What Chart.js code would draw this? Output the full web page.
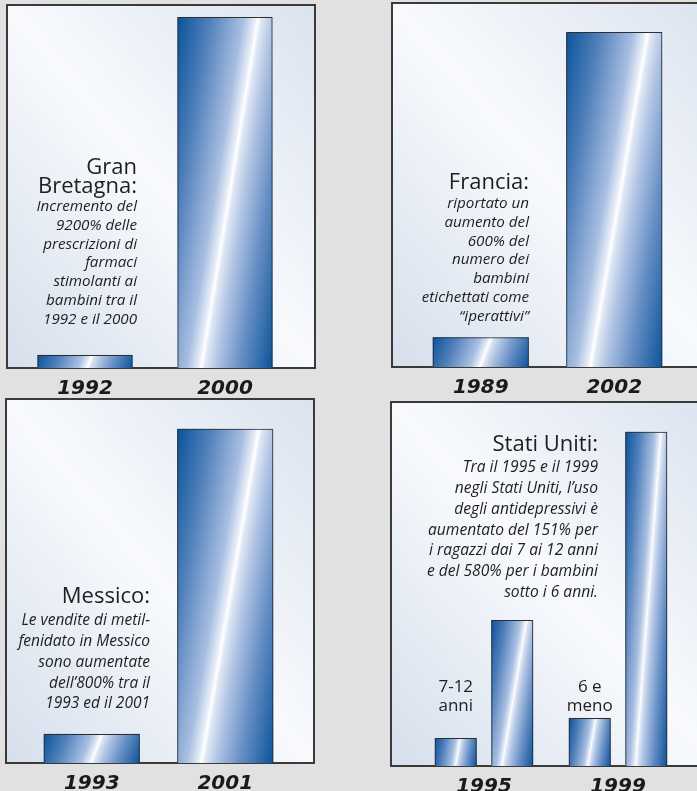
<!DOCTYPE html>
<html>
<head>
<meta charset="utf-8">
<script src="https://cdn.jsdelivr.net/npm/chart.js"></script>
<style>
    body {
        margin: 0;
        width: 697px;
        height: 791px;
        overflow: hidden;
        position: relative;
        background: #e1e1e1;
    }
    .frame {
        position: absolute;
        box-sizing: border-box;
        border: 2px solid #3a3a3a;
        background: linear-gradient(to top right, #d6dfec 0%, #f8fafd 50%, #dbe3ef 100%);
    }
    canvas {
        position: absolute;
    }
</style>
</head>
<body>
<div class="frame" style="left:6px;top:4px;width:310px;height:365px"></div>
<div class="frame" style="left:391px;top:2px;width:330px;height:366px"></div>
<div class="frame" style="left:5px;top:398px;width:310px;height:366px"></div>
<div class="frame" style="left:390px;top:401px;width:330px;height:366px"></div>
<canvas id="ukChart" width="350" height="398" style="left:0;top:0"></canvas>
<canvas id="frChart" width="347" height="398" style="left:350px;top:0"></canvas>
<canvas id="mxChart" width="350" height="398" style="left:0;top:398px"></canvas>
<canvas id="usChart" width="347" height="398" style="left:350px;top:398px"></canvas>
<script>
// values are bar heights relative to the panel height (0-100)
const ukYears = ["1992", "2000"];
const ukValues = [3.6, 96.7];
const frYears = ["1989", "2002"];
const frValues = [8.2, 92.0];
const mxYears = ["1993", "2001"];
const mxValues = [8.0, 91.8];
const usYears = ["1995", "1999"];
const usFirst = [7.7, 13.2];
const usSecond = [40.1, 91.8];
const usGroups = [["7-12", "anni"], ["6 e", "meno"]];

const ukTitle = ["Gran", "Bretagna:"];
const ukNote = ["Incremento del", "9200% delle", "prescrizioni di", "farmaci",
    "stimolanti ai", "bambini tra il", "1992 e il 2000"];
const frTitle = ["Francia:"];
const frNote = ["riportato un", "aumento del", "600% del", "numero dei",
    "bambini", "etichettati come", "\u201ciperattivi\u201d"];
const mxTitle = ["Messico:"];
const mxNote = ["Le vendite di metil-", "fenidato in Messico", "sono aumentate",
    "dell\u2019800% tra il", "1993 ed il 2001"];
const usTitle = ["Stati Uniti:"];
const usNote = ["Tra il 1995 e il 1999", "negli Stati Uniti, l\u2019uso",
    "degli antidepressivi \u00e8", "aumentato del 151% per",
    "i ragazzi dai 7 ai 12 anni", "e del 580% per i bambini", "sotto i 6 anni."];

const textColor = "#1e1e1e";
const fontName = "'Open Sans', 'DejaVu Sans', sans-serif";

// shiny blue fill with a slanted white streak, painted under each bar
const shinyBars = {
    id: "shinyBars",
    beforeDatasetsDraw(chart) {
        let ctx = chart.ctx;
        chart.data.datasets.forEach((ds, di) => {
            chart.getDatasetMeta(di).data.forEach((bar) => {
                let p = bar.getProps(["x", "y", "base", "width"], true);
                let x0 = p.x - p.width / 2;
                let w = p.width;
                let h = p.base - p.y;
                // slant of the streak, smaller on short bars
                let s = 0.6 * Math.min(1, h / 150);
                let tMin = -(0.55 + s / 2);
                let tMax = 0.45 + s / 2;
                let span = tMax - tMin;
                let gx = 1 / (w * span);
                let gy = s / (h * span);
                let m = gx * gx + gy * gy;
                let grad = ctx.createLinearGradient(x0, p.y, x0 + gx / m, p.y + gy / m);
                let at = (t) => (t - tMin) / span;
                grad.addColorStop(0, "#0a5399");
                grad.addColorStop(at(0.6 * tMin), "#4f7fba");
                grad.addColorStop(at(0.18 * tMin), "#a9bfe2");
                grad.addColorStop(at(0.035 * tMin), "#e8eef8");
                grad.addColorStop(at(0), "#ffffff");
                grad.addColorStop(at(0.05 * tMax), "#dfe7f4");
                grad.addColorStop(at(0.2 * tMax), "#b3c6e5");
                grad.addColorStop(at(0.53 * tMax), "#6890c6");
                grad.addColorStop(1, "#0a5399");
                ctx.save();
                ctx.fillStyle = grad;
                ctx.fillRect(x0, p.y, w, h);
                ctx.restore();
            });
        });
    },
};

// right aligned heading and italic note inside the panel
const notes = {
    id: "notes",
    afterDraw(chart, args, opts) {
        if (!opts.body) return;
        let ctx = chart.ctx;
        ctx.save();
        ctx.fillStyle = textColor;
        ctx.textAlign = "right";
        ctx.textBaseline = "middle";
        ctx.font = opts.titleSize + "px " + fontName;
        opts.title.forEach((line, i) => {
            ctx.fillText(line, opts.right, opts.titleY + i * opts.titleStep);
        });
        ctx.font = "italic " + opts.bodySize + "px " + fontName;
        opts.body.forEach((line, i) => {
            ctx.fillText(line, opts.right, opts.bodyY + i * opts.bodyStep);
        });
        if (opts.groups) {
            ctx.textAlign = "center";
            ctx.font = opts.groupSize + "px " + fontName;
            chart.getDatasetMeta(0).data.forEach((bar, i) => {
                opts.groups[i].forEach((line, j) => {
                    ctx.fillText(line, bar.x, opts.groupY + j * opts.groupStep);
                });
            });
        }
        ctx.restore();
    },
};

function makeChart(id, labels, series, area, barPct, catPct, note) {
    let canvas = document.getElementById(id);
    let datasets = series.map((values) => {
        return {
            data: values,
            backgroundColor: "rgba(0,0,0,0)",
            borderColor: "#2e2e2e",
            borderWidth: 1,
            borderSkipped: "bottom",
            barPercentage: barPct,
            categoryPercentage: catPct,
        };
    });
    return new Chart(canvas, {
        type: "bar",
        data: {
            labels: labels,
            datasets: datasets,
        },
        options: {
            responsive: false,
            animation: false,
            devicePixelRatio: 1,
            layout: {
                padding: {
                    left: area.left,
                    right: canvas.width - area.right,
                    top: area.top,
                    bottom: canvas.height - area.bottom - 30,
                },
            },
            scales: {
                x: {
                    grid: { display: false, drawTicks: false },
                    border: { display: false },
                    ticks: {
                        color: "#1a1a1a",
                        padding: 9,
                        font: { family: "'DejaVu Sans', sans-serif", size: 20, weight: "bold", style: "italic" },
                    },
                    afterFit: (scale) => {
                        scale.height = 30;
                    },
                },
                y: {
                    display: false,
                    min: 0,
                    max: 100,
                },
            },
            plugins: {
                legend: { display: false },
                tooltip: { enabled: false },
                notes: note,
            },
        },
        plugins: [shinyBars, notes],
    });
}

makeChart("ukChart", ukYears, [ukValues], { left: 15, right: 295, top: 5, bottom: 368 }, 0.68, 1, {
    right: 137, title: ukTitle, titleSize: 22, titleY: 168, titleStep: 19,
    body: ukNote, bodySize: 15.2, bodyY: 207, bodyStep: 18.7,
});
makeChart("frChart", frYears, [frValues], { left: 64, right: 331, top: 3, bottom: 367 }, 0.72, 1, {
    right: 179, title: frTitle, titleSize: 22, titleY: 183, titleStep: 19,
    body: frNote, bodySize: 15.2, bodyY: 204, bodyStep: 18.7,
});
makeChart("mxChart", mxYears, [mxValues], { left: 25, right: 292, top: 1, bottom: 365 }, 0.72, 1, {
    right: 150, title: mxTitle, titleSize: 22, titleY: 199, titleStep: 19,
    body: mxNote, bodySize: 15.5, bodyY: 223, bodyStep: 20.7,
});
makeChart("usChart", usYears, [usFirst, usSecond], { left: 67, right: 335, top: 4, bottom: 368 }, 0.743, 0.843, {
    right: 248, title: usTitle, titleSize: 22, titleY: 47, titleStep: 19,
    body: usNote, bodySize: 15.6, bodyY: 70, bodyStep: 20.7,
    groups: usGroups, groupSize: 17, groupY: 289, groupStep: 19,
});
</script>
</body>
</html>
